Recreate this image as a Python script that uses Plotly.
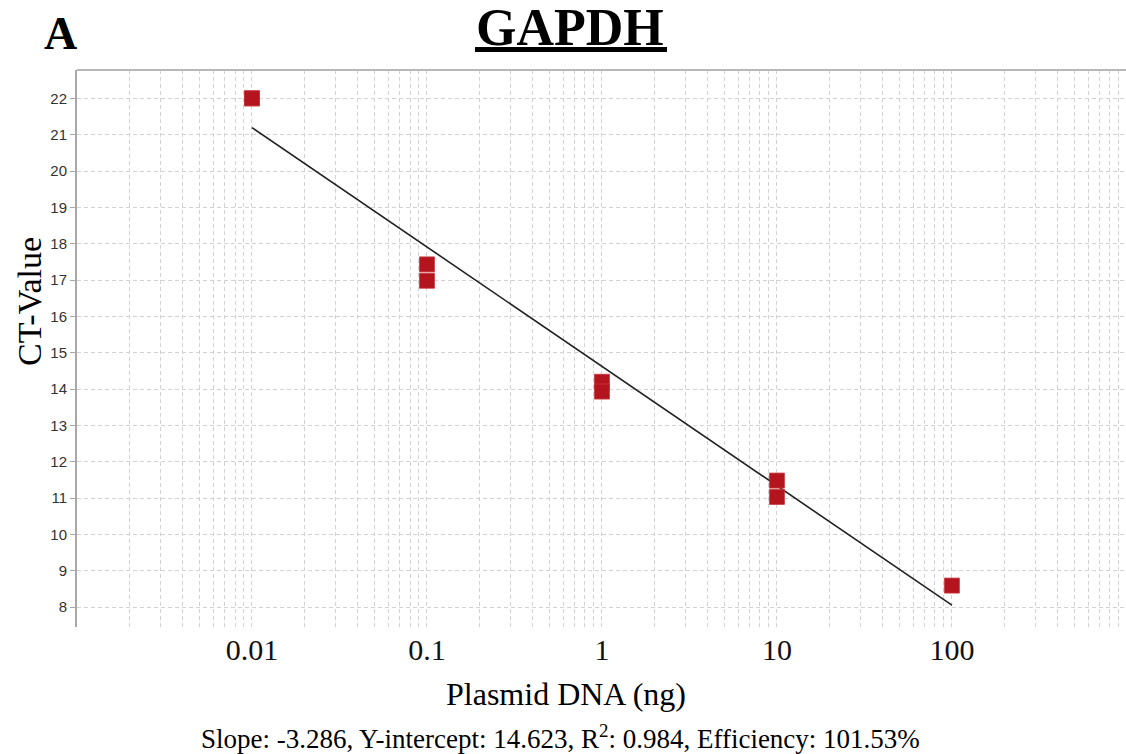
import plotly.graph_objects as go
import numpy as np

# Data
dna_ng = [0.01, 0.01, 0.1, 0.1, 1, 1, 10, 10, 100]
ct_values = [22.0, 22.0, 17.43, 16.98, 14.2, 13.93, 11.48, 11.03, 8.59]

slope = -3.286
intercept = 14.623
fit_x = [0.01, 100]
fit_y = [intercept + slope * np.log10(v) for v in fit_x]

x_tickvals = [0.01, 0.1, 1, 10, 100]
x_ticktext = ["0.01", "0.1", "1", "10", "100"]
y_tickvals = list(range(8, 23))

L, R, T, B = 77, 0, 70, 127
W, H = 1126, 754
PW, PH = W - L - R, H - T - B


def px(xp):
    return (xp - L) / PW


def py(yp):
    return (H - B - yp) / PH


fig = go.Figure()
fig.add_trace(go.Scatter(x=fit_x, y=fit_y, mode="lines",
                         line=dict(color="#222222", width=1.6),
                         showlegend=False, hoverinfo="skip"))
fig.add_trace(go.Scatter(x=dna_ng, y=ct_values, mode="markers",
                         marker=dict(symbol="square", size=15, color="#B3141E",
                                     line=dict(color="#C8383E", width=0.8)),
                         showlegend=False))

grid_col = "#d2d2d2"
gdash = "4px,3px"
fig.update_xaxes(type="log", range=[-3, 2.995],
                 tickvals=x_tickvals, ticktext=x_ticktext,
                 tickfont=dict(family="Liberation Serif", size=30, color="#111"),
                 showgrid=True, gridcolor=grid_col, griddash=gdash, gridwidth=1,
                 minor=dict(dtick="D1", showgrid=True, gridcolor=grid_col,
                            griddash=gdash, gridwidth=1, ticks=""),
                 showline=False, zeroline=False, ticks="", ticklabelstandoff=2)
fig.update_yaxes(range=[7.45, 22.78], tickvals=y_tickvals,
                 tickfont=dict(family="Liberation Sans", size=15, color="#333"),
                 showgrid=True, gridcolor=grid_col, griddash=gdash, gridwidth=1,
                 showline=True, linecolor="#a8a8a8", linewidth=2,
                 ticks="outside", ticklen=5, tickcolor="#a8a8a8",
                 zeroline=False)

fig.add_shape(type="line", xref="paper", yref="paper", x0=0, x1=1, y0=1, y1=1,
              line=dict(color="#b8b8b8", width=2))
# underline of title
fig.add_shape(type="line", xref="paper", yref="paper", x0=px(475), x1=px(667),
              y0=py(49.5), y1=py(49.5), line=dict(color="black", width=5))

ann = [
    dict(text="<b>A</b>", x=px(60), y=py(34), size=46),
    dict(text="<b>GAPDH</b>", x=px(570), y=py(27), size=52),
    dict(text="Plasmid DNA (ng)", x=px(566), y=py(694), size=32),
    dict(text="Slope: -3.286, Y-intercept: 14.623, R<sup>2</sup>: 0.984, Efficiency: 101.53%",
         x=px(560), y=py(737), size=27),
]
for a in ann:
    fig.add_annotation(text=a["text"], x=a["x"], y=a["y"], xref="paper", yref="paper",
                       xanchor="center", yanchor="middle", showarrow=False,
                       font=dict(family="Liberation Serif", size=a["size"], color="black"))
fig.add_annotation(text="CT-Value", x=px(29), y=py(302), xref="paper", yref="paper",
                   xanchor="center", yanchor="middle", showarrow=False, textangle=-90,
                   font=dict(family="Liberation Serif", size=34, color="black"))

fig.update_layout(width=W, height=H, margin=dict(l=L, r=R, t=T, b=B),
                  paper_bgcolor="white", plot_bgcolor="white")
fig.write_html("out.html")
